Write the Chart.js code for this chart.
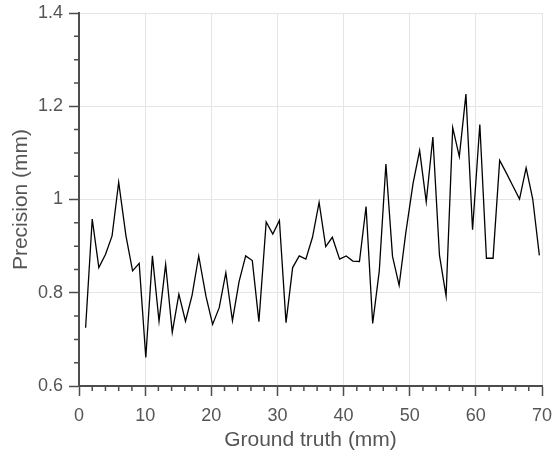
<!DOCTYPE html>
<html>
<head>
<meta charset="utf-8">
<script src="https://cdn.jsdelivr.net/npm/chart.js@4/dist/chart.umd.min.js"></script>
<style>
  html, body { margin: 0; padding: 0; background: #fff; }
  #wrap { width: 555px; height: 454px; }
</style>
</head>
<body>
<div id="wrap"><canvas id="precisionChart" width="555" height="454"></canvas></div>
<script>
// Measured ground truth (mm) for each trial
const groundTruth = [
    1.0, 2.0, 3.0, 4.0, 5.0, 6.0, 7.1, 8.1, 9.1, 10.1,
    11.1, 12.1, 13.1, 14.1, 15.1, 16.1, 17.1, 18.1, 19.2, 20.2,
    21.2, 22.2, 23.2, 24.2, 25.2, 26.2, 27.2, 28.3, 29.3, 30.3,
    31.3, 32.3, 33.3, 34.3, 35.3, 36.3, 37.3, 38.3, 39.4, 40.4,
    41.4, 42.4, 43.4, 44.4, 45.4, 46.4, 47.4, 48.4, 49.4, 50.5,
    51.5, 52.5, 53.5, 54.5, 55.5, 56.5, 57.5, 58.5, 59.5, 60.6,
    61.6, 62.6, 63.6, 64.6, 65.6, 66.6, 67.6, 68.6, 69.6
];

// Precision (mm) at each ground truth value
const precision = [
    0.725, 0.958, 0.854, 0.882, 0.922, 1.037, 0.922, 0.847, 0.863, 0.661,
    0.879, 0.739, 0.861, 0.715, 0.797, 0.739, 0.795, 0.879, 0.792, 0.732,
    0.768, 0.843, 0.740, 0.824, 0.879, 0.869, 0.738, 0.952, 0.926, 0.955,
    0.736, 0.854, 0.879, 0.872, 0.919, 0.994, 0.899, 0.919, 0.872, 0.879,
    0.868, 0.867, 0.985, 0.734, 0.847, 1.076, 0.878, 0.816, 0.928, 1.034,
    1.105, 0.995, 1.134, 0.880, 0.793, 1.154, 1.092, 1.226, 0.935, 1.161,
    0.874, 0.874, 1.084, 1.057, 1.029, 1.001, 1.068, 1.001, 0.880
];

// Axis ranges and tick steps
const xRange = [0, 70];
const yRange = [0.6, 1.4];
const xMajorStep = 10;
const xMinorStep = 2;
const yMajorStep = 0.2;
const yMinorStep = 0.05;

const axisColor = '#4d4d4d';
const textColor = '#555555';
const gridColor = '#e5e5e5';
const fontFamily = "'Liberation Sans', Arial, sans-serif";

// Small outward ticks between the labelled ones
const minorTicks = {
    id: 'minorTicks',
    afterDraw(chart) {
        const ctx = chart.ctx;
        const xs = chart.scales.x;
        const ys = chart.scales.y;
        const len = 5;
        ctx.save();
        ctx.strokeStyle = axisColor;
        ctx.lineWidth = 1.5;
        ctx.beginPath();
        for (let v = xRange[0]; v <= xRange[1] + 1e-9; v += xMinorStep) {
            if (Math.abs(v % xMajorStep) < 1e-9) continue;
            const px = xs.getPixelForValue(v);
            ctx.moveTo(px, ys.bottom);
            ctx.lineTo(px, ys.bottom + len);
        }
        for (let i = 0; ; i++) {
            const v = yRange[0] + i * yMinorStep;
            if (v > yRange[1] + 1e-9) break;
            if (i % Math.round(yMajorStep / yMinorStep) === 0) continue;
            const py = ys.getPixelForValue(v);
            ctx.moveTo(xs.left, py);
            ctx.lineTo(xs.left - len, py);
        }
        ctx.stroke();
        ctx.restore();
    }
};

const points = groundTruth.map((x, i) => ({ x: x, y: precision[i] }));

new Chart(document.getElementById('precisionChart'), {
    type: 'line',
    data: {
        datasets: [{
            data: points,
            borderColor: '#000000',
            borderWidth: 1.3,
            pointRadius: 0,
            tension: 0,
            fill: false
        }]
    },
    options: {
        responsive: false,
        animation: false,
        events: [],
        layout: { padding: { top: 13, right: 13, left: 0, bottom: 0 } },
        plugins: {
            legend: { display: false },
            tooltip: { enabled: false }
        },
        scales: {
            x: {
                type: 'linear',
                min: xRange[0],
                max: xRange[1],
                afterFit: (scale) => {
                    scale.height = 68;
                    scale.paddingLeft = 0;
                    scale.paddingRight = 0;
                },
                grid: {
                    color: gridColor,
                    lineWidth: 1,
                    tickColor: axisColor,
                    tickLength: 10,
                    tickWidth: 1.5
                },
                border: { color: axisColor, width: 2 },
                ticks: {
                    stepSize: xMajorStep,
                    color: textColor,
                    padding: 9,
                    maxRotation: 0,
                    font: { family: fontFamily, size: 18 }
                },
                title: {
                    display: true,
                    text: 'Ground truth (mm)',
                    color: textColor,
                    padding: { top: 0, bottom: 1 },
                    font: { family: fontFamily, size: 21 }
                }
            },
            y: {
                type: 'linear',
                min: yRange[0],
                max: yRange[1],
                afterFit: (scale) => {
                    scale.width = 79;
                    scale.paddingTop = 0;
                    scale.paddingBottom = 0;
                },
                grid: {
                    color: gridColor,
                    lineWidth: 1,
                    tickColor: axisColor,
                    tickLength: 10,
                    tickWidth: 1.5
                },
                border: { color: axisColor, width: 2 },
                ticks: {
                    stepSize: yMajorStep,
                    color: textColor,
                    padding: 6,
                    font: { family: fontFamily, size: 18 },
                    callback: (value) => String(Number(value.toFixed(2)))
                },
                title: {
                    display: true,
                    text: 'Precision (mm)',
                    color: textColor,
                    padding: { top: 9, bottom: 0 },
                    font: { family: fontFamily, size: 21 }
                }
            }
        }
    },
    plugins: [minorTicks]
});
</script>
</body>
</html>
